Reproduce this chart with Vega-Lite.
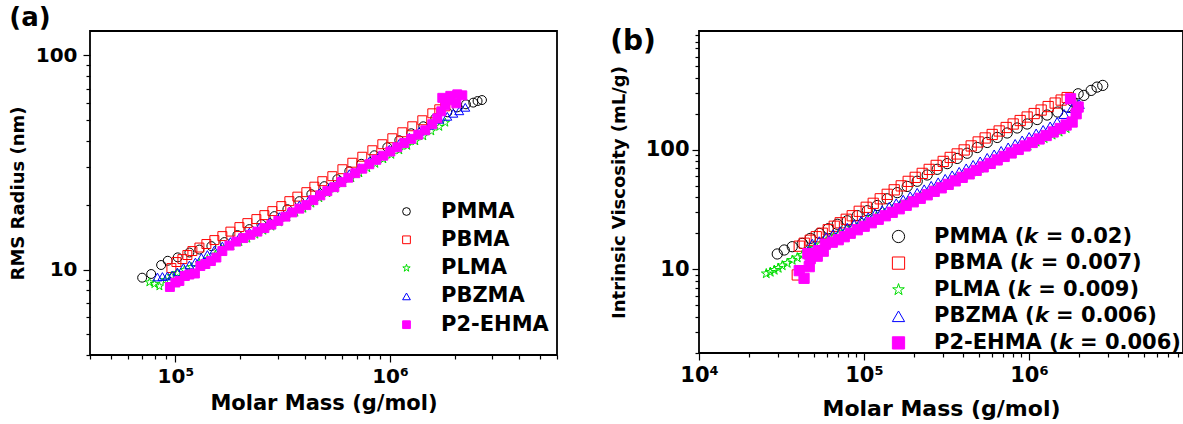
{
  "$schema": "https://vega.github.io/schema/vega-lite/v6.json",
  "background": "white",
  "padding": {"left": 8, "top": 4, "right": 0, "bottom": 0},
  "config": {
    "font": "DejaVu Sans",
    "view": {"stroke": "black", "strokeWidth": 1.8},
    "axis": {"domain": false, "grid": false, "tickColor": "black", "tickWidth": 1.2, "labelColor": "black", "titleColor": "black", "labelFont": "DejaVu Sans", "titleFont": "DejaVu Sans", "labelFontWeight": "bold", "titleFontWeight": "bold", "labelFlush": false, "labelOverlap": false, "labelBound": false},
    "legend": {"title": null, "labelFont": "DejaVu Sans", "labelFontWeight": "bold", "labelColor": "black", "labelFontSize": 20, "labelLimit": 400, "symbolStrokeWidth": 1},
    "title": {"font": "DejaVu Sans", "fontWeight": "bold", "color": "black", "fontSize": 26, "anchor": "start", "frame": "bounds"}
  },
  "resolve": {"scale": {"shape": "independent", "stroke": "independent", "fill": "independent"}, "legend": {"shape": "independent", "stroke": "independent", "fill": "independent"}},
  "spacing": 50,
  "datasets": {
    "a": [
      {"s":"PMMA","M":70000,"v":9.18},{"s":"PMMA","M":77100,"v":9.55},{"s":"PMMA","M":85800,"v":10.52},{"s":"PMMA","M":92100,"v":11.01},{"s":"PMMA","M":102500,"v":11.42},{"s":"PMMA","M":116200,"v":12.03},{"s":"PMMA","M":129300,"v":12.42},{"s":"PMMA","M":147100,"v":12.89},{"s":"PMMA","M":169200,"v":13.46},{"s":"PMMA","M":194500,"v":14.51},{"s":"PMMA","M":221100,"v":15.47},{"s":"PMMA","M":251500,"v":16.32},{"s":"PMMA","M":289200,"v":17.79},{"s":"PMMA","M":332500,"v":19.17},{"s":"PMMA","M":378100,"v":20.89},{"s":"PMMA","M":430000,"v":22.52},{"s":"PMMA","M":494300,"v":24.54},{"s":"PMMA","M":568200,"v":26.45},{"s":"PMMA","M":646200,"v":28.83},{"s":"PMMA","M":734900,"v":31.22},{"s":"PMMA","M":845300,"v":34.21},{"s":"PMMA","M":971500,"v":37.28},{"s":"PMMA","M":1104900,"v":40.19},{"s":"PMMA","M":1256600,"v":43.33},{"s":"PMMA","M":1429500,"v":46.7},{"s":"PMMA","M":1625600,"v":50.88},{"s":"PMMA","M":1849200,"v":54.27},{"s":"PMMA","M":2057600,"v":57.25},{"s":"PMMA","M":2259300,"v":59.12},{"s":"PMMA","M":2443600,"v":60.21},{"s":"PMMA","M":2558800,"v":61.25},{"s":"PMMA","M":2682400,"v":61.91},
      {"s":"PBMA","M":95800,"v":10.18},{"s":"PBMA","M":101100,"v":10.86},{"s":"PBMA","M":107800,"v":11.21},{"s":"PBMA","M":113700,"v":11.71},{"s":"PBMA","M":120000,"v":12.22},{"s":"PBMA","M":129400,"v":12.69},{"s":"PBMA","M":139400,"v":13.18},{"s":"PBMA","M":151900,"v":13.75},{"s":"PBMA","M":165500,"v":14.35},{"s":"PBMA","M":180400,"v":15.06},{"s":"PBMA","M":198700,"v":15.81},{"s":"PBMA","M":216400,"v":16.5},{"s":"PBMA","M":238400,"v":17.23},{"s":"PBMA","M":259700,"v":17.98},{"s":"PBMA","M":283000,"v":18.77},{"s":"PBMA","M":311600,"v":19.81},{"s":"PBMA","M":339600,"v":20.89},{"s":"PBMA","M":370000,"v":21.93},{"s":"PBMA","M":407500,"v":23.01},{"s":"PBMA","M":444000,"v":24.41},{"s":"PBMA","M":483800,"v":25.89},{"s":"PBMA","M":538500,"v":27.32},{"s":"PBMA","M":599900,"v":29.44},{"s":"PBMA","M":667400,"v":31.57},{"s":"PBMA","M":742800,"v":33.67},{"s":"PBMA","M":827300,"v":36.1},{"s":"PBMA","M":920700,"v":38.51},{"s":"PBMA","M":1025000,"v":41.06},{"s":"PBMA","M":1141000,"v":43.79},{"s":"PBMA","M":1270200,"v":46.7},{"s":"PBMA","M":1414000,"v":49.82},{"s":"PBMA","M":1574100,"v":53.69},{"s":"PBMA","M":1696600,"v":56.05},{"s":"PBMA","M":1810000,"v":57.87},
      {"s":"PLMA","M":75670,"v":8.737},{"s":"PLMA","M":79850,"v":8.579},{"s":"PLMA","M":84240,"v":8.37},{"s":"PLMA","M":89820,"v":8.955},{"s":"PLMA","M":95800,"v":9.347},{"s":"PLMA","M":102170,"v":9.652},{"s":"PLMA","M":110120,"v":9.968},{"s":"PLMA","M":118720,"v":10.294},{"s":"PLMA","M":129340,"v":10.745},{"s":"PLMA","M":140940,"v":11.215},{"s":"PLMA","M":153570,"v":11.771},{"s":"PLMA","M":167330,"v":12.355},{"s":"PLMA","M":182390,"v":12.895},{"s":"PLMA","M":198660,"v":13.46},{"s":"PLMA","M":216420,"v":13.97},{"s":"PLMA","M":235890,"v":14.586},{"s":"PLMA","M":256970,"v":15.224},{"s":"PLMA","M":280050,"v":15.891},{"s":"PLMA","M":305060,"v":16.627},{"s":"PLMA","M":332490,"v":17.539},{"s":"PLMA","M":362240,"v":18.47},{"s":"PLMA","M":394690,"v":19.276},{"s":"PLMA","M":430030,"v":20.36},{"s":"PLMA","M":468480,"v":21.577},{"s":"PLMA","M":510450,"v":22.76},{"s":"PLMA","M":556180,"v":23.89},{"s":"PLMA","M":606040,"v":25.35},{"s":"PLMA","M":660360,"v":26.73},{"s":"PLMA","M":719450,"v":28.21},{"s":"PLMA","M":783960,"v":29.77},{"s":"PLMA","M":854190,"v":31.22},{"s":"PLMA","M":930630,"v":32.78},{"s":"PLMA","M":1014000,"v":34.4},{"s":"PLMA","M":1104900,"v":36.1},{"s":"PLMA","M":1203700,"v":37.88},{"s":"PLMA","M":1312300,"v":39.77},{"s":"PLMA","M":1429500,"v":41.96},{"s":"PLMA","M":1557300,"v":44.26},{"s":"PLMA","M":1696600,"v":46.45},{"s":"PLMA","M":1810000,"v":48.59},
      {"s":"PBZMA","M":82460,"v":9.247},{"s":"PBZMA","M":87000,"v":9.297},{"s":"PBZMA","M":91790,"v":9.347},{"s":"PBZMA","M":96830,"v":9.447},{"s":"PBZMA","M":102170,"v":9.756},{"s":"PBZMA","M":108960,"v":10.239},{"s":"PBZMA","M":116200,"v":10.517},{"s":"PBZMA","M":123940,"v":10.861},{"s":"PBZMA","M":132160,"v":11.397},{"s":"PBZMA","M":140940,"v":11.771},{"s":"PBZMA","M":151940,"v":12.353},{"s":"PBZMA","M":165510,"v":12.895},{"s":"PBZMA","M":180450,"v":13.533},{"s":"PBZMA","M":198660,"v":14.2},{"s":"PBZMA","M":221130,"v":14.98},{"s":"PBZMA","M":246180,"v":15.805},{"s":"PBZMA","M":274100,"v":16.68},{"s":"PBZMA","M":305060,"v":17.69},{"s":"PBZMA","M":339570,"v":18.77},{"s":"PBZMA","M":378130,"v":20.02},{"s":"PBZMA","M":420930,"v":21.35},{"s":"PBZMA","M":468480,"v":22.88},{"s":"PBZMA","M":521490,"v":24.28},{"s":"PBZMA","M":580550,"v":26.17},{"s":"PBZMA","M":646230,"v":28.06},{"s":"PBZMA","M":719450,"v":29.92},{"s":"PBZMA","M":800950,"v":32.09},{"s":"PBZMA","M":891620,"v":34.21},{"s":"PBZMA","M":992540,"v":36.49},{"s":"PBZMA","M":1104900,"v":38.93},{"s":"PBZMA","M":1229900,"v":41.5},{"s":"PBZMA","M":1369200,"v":44.26},{"s":"PBZMA","M":1524200,"v":47.21},{"s":"PBZMA","M":1696600,"v":50.34},{"s":"PBZMA","M":1849200,"v":51.98},{"s":"PBZMA","M":1972000,"v":53.69},{"s":"PBZMA","M":2102300,"v":55.15},{"s":"PBZMA","M":2242400,"v":57.25},
      {"s":"P2-EHMA","M":94280,"v":8.308},{"s":"P2-EHMA","M":100000,"v":8.715},{"s":"P2-EHMA","M":104380,"v":8.859},{"s":"P2-EHMA","M":110720,"v":9.347},{"s":"P2-EHMA","M":116200,"v":9.498},{"s":"P2-EHMA","M":123280,"v":9.601},{"s":"P2-EHMA","M":130740,"v":10.405},{"s":"P2-EHMA","M":137960,"v":10.63},{"s":"P2-EHMA","M":146350,"v":10.977},{"s":"P2-EHMA","M":155230,"v":11.398},{"s":"P2-EHMA","M":165510,"v":12.22},{"s":"P2-EHMA","M":178530,"v":12.964},{"s":"P2-EHMA","M":192380,"v":13.533},{"s":"P2-EHMA","M":207350,"v":14.049},{"s":"P2-EHMA","M":223520,"v":14.555},{"s":"P2-EHMA","M":241000,"v":15.062},{"s":"P2-EHMA","M":259730,"v":15.636},{"s":"P2-EHMA","M":280050,"v":16.235},{"s":"P2-EHMA","M":301800,"v":16.913},{"s":"P2-EHMA","M":325440,"v":17.69},{"s":"P2-EHMA","M":350750,"v":18.51},{"s":"P2-EHMA","M":378130,"v":19.277},{"s":"P2-EHMA","M":407480,"v":20.02},{"s":"P2-EHMA","M":439320,"v":21.115},{"s":"P2-EHMA","M":473540,"v":22.233},{"s":"P2-EHMA","M":510450,"v":23.255},{"s":"P2-EHMA","M":550260,"v":24.28},{"s":"P2-EHMA","M":593460,"v":25.62},{"s":"P2-EHMA","M":639350,"v":26.88},{"s":"P2-EHMA","M":689190,"v":28.21},{"s":"P2-EHMA","M":742820,"v":29.61},{"s":"P2-EHMA","M":800950,"v":31.06},{"s":"P2-EHMA","M":863400,"v":32.57},{"s":"P2-EHMA","M":930630,"v":34.04},{"s":"P2-EHMA","M":1003300,"v":35.6},{"s":"P2-EHMA","M":1081400,"v":37.28},{"s":"P2-EHMA","M":1165700,"v":39.01},{"s":"P2-EHMA","M":1256600,"v":40.8},{"s":"P2-EHMA","M":1354600,"v":42.68},{"s":"P2-EHMA","M":1460100,"v":44.74},{"s":"P2-EHMA","M":1574100,"v":47.72},{"s":"P2-EHMA","M":1660600,"v":50.88},{"s":"P2-EHMA","M":1733400,"v":54.85},{"s":"P2-EHMA","M":1810000,"v":58.48},{"s":"P2-EHMA","M":1889200,"v":61.72},{"s":"P2-EHMA","M":1752100,"v":63.4},{"s":"P2-EHMA","M":1909600,"v":64.77},{"s":"P2-EHMA","M":2057700,"v":65.82},{"s":"P2-EHMA","M":2172000,"v":65.12},{"s":"P2-EHMA","M":2036400,"v":59.76}
    ],
    "b": [
      {"s":"PMMA","M":29820,"v":13.44},{"s":"PMMA","M":32880,"v":14.51},{"s":"PMMA","M":36760,"v":15.46},{"s":"PMMA","M":42270,"v":16.47},{"s":"PMMA","M":47260,"v":18.13},{"s":"PMMA","M":53590,"v":19.95},{"s":"PMMA","M":60760,"v":21.84},{"s":"PMMA","M":68890,"v":23.81},{"s":"PMMA","M":79210,"v":25.46},{"s":"PMMA","M":91080,"v":28.13},{"s":"PMMA","M":104710,"v":30.9},{"s":"PMMA","M":120360,"v":34.15},{"s":"PMMA","M":138410,"v":38.84},{"s":"PMMA","M":159180,"v":43.74},{"s":"PMMA","M":182970,"v":49.26},{"s":"PMMA","M":210400,"v":54.44},{"s":"PMMA","M":241910,"v":61.43},{"s":"PMMA","M":278130,"v":68.51},{"s":"PMMA","M":319780,"v":76.43},{"s":"PMMA","M":367590,"v":84.45},{"s":"PMMA","M":422720,"v":93.33},{"s":"PMMA","M":486050,"v":104.1},{"s":"PMMA","M":558860,"v":114.8},{"s":"PMMA","M":642610,"v":126.4},{"s":"PMMA","M":738780,"v":137.8},{"s":"PMMA","M":849430,"v":151.7},{"s":"PMMA","M":976560,"v":163.8},{"s":"PMMA","M":1122800,"v":178.5},{"s":"PMMA","M":1291000,"v":194.6},{"s":"PMMA","M":1494800,"v":206.2},{"s":"PMMA","M":1706800,"v":227.0},{"s":"PMMA","M":1829700,"v":254.6},{"s":"PMMA","M":1989500,"v":292.9},{"s":"PMMA","M":2154400,"v":284.0},{"s":"PMMA","M":2385600,"v":312.6},{"s":"PMMA","M":2590700,"v":333.1},{"s":"PMMA","M":2804900,"v":344.1},
      {"s":"PBMA","M":39430,"v":8.981},{"s":"PBMA","M":40540,"v":15.61},{"s":"PBMA","M":43460,"v":16.53},{"s":"PBMA","M":47260,"v":17.51},{"s":"PBMA","M":51390,"v":18.73},{"s":"PBMA","M":55890,"v":20.03},{"s":"PBMA","M":60760,"v":21.42},{"s":"PBMA","M":66070,"v":22.91},{"s":"PBMA","M":71830,"v":24.5},{"s":"PBMA","M":78110,"v":26.2},{"s":"PBMA","M":84940,"v":28.03},{"s":"PBMA","M":93650,"v":30.55},{"s":"PBMA","M":103260,"v":32.99},{"s":"PBMA","M":113850,"v":35.62},{"s":"PBMA","M":125570,"v":38.84},{"s":"PBMA","M":138410,"v":42.33},{"s":"PBMA","M":152630,"v":46.15},{"s":"PBMA","M":168310,"v":49.83},{"s":"PBMA","M":185540,"v":54.33},{"s":"PBMA","M":204620,"v":58.68},{"s":"PBMA","M":225630,"v":63.34},{"s":"PBMA","M":248730,"v":68.39},{"s":"PBMA","M":274280,"v":73.85},{"s":"PBMA","M":302430,"v":79.75},{"s":"PBMA","M":333460,"v":86.1},{"s":"PBMA","M":367590,"v":92.07},{"s":"PBMA","M":405400,"v":99.43},{"s":"PBMA","M":446970,"v":107.4},{"s":"PBMA","M":492890,"v":115.9},{"s":"PBMA","M":543480,"v":125.2},{"s":"PBMA","M":599270,"v":133.9},{"s":"PBMA","M":660690,"v":143.2},{"s":"PBMA","M":728500,"v":153.1},{"s":"PBMA","M":803300,"v":163.8},{"s":"PBMA","M":885770,"v":175.1},{"s":"PBMA","M":976560,"v":187.3},{"s":"PBMA","M":1076800,"v":200.3},{"s":"PBMA","M":1187300,"v":214.2},{"s":"PBMA","M":1309200,"v":229.1},{"s":"PBMA","M":1443500,"v":245.0},{"s":"PBMA","M":1569700,"v":259.5},{"s":"PBMA","M":1706800,"v":272.3},
      {"s":"PLMA","M":25580,"v":9.208},{"s":"PLMA","M":27050,"v":9.477},{"s":"PLMA","M":28600,"v":9.848},{"s":"PLMA","M":30240,"v":10.23},{"s":"PLMA","M":31980,"v":10.74},{"s":"PLMA","M":34280,"v":11.26},{"s":"PLMA","M":36760,"v":11.93},{"s":"PLMA","M":39430,"v":12.51},{"s":"PLMA","M":42270,"v":13.13},{"s":"PLMA","M":45960,"v":14.04},{"s":"PLMA","M":49970,"v":15.02},{"s":"PLMA","M":54350,"v":16.06},{"s":"PLMA","M":59100,"v":17.01},{"s":"PLMA","M":64260,"v":18.02},{"s":"PLMA","M":69860,"v":19.28},{"s":"PLMA","M":77030,"v":20.62},{"s":"PLMA","M":84940,"v":22.05},{"s":"PLMA","M":94980,"v":23.58},{"s":"PLMA","M":106180,"v":25.46},{"s":"PLMA","M":118720,"v":27.49},{"s":"PLMA","M":132760,"v":29.39},{"s":"PLMA","M":148430,"v":31.75},{"s":"PLMA","M":165960,"v":33.95},{"s":"PLMA","M":185540,"v":36.66},{"s":"PLMA","M":207500,"v":39.22},{"s":"PLMA","M":232010,"v":42.33},{"s":"PLMA","M":259400,"v":45.27},{"s":"PLMA","M":290000,"v":48.89},{"s":"PLMA","M":324310,"v":52.29},{"s":"PLMA","M":362620,"v":56.44},{"s":"PLMA","M":405400,"v":60.38},{"s":"PLMA","M":453390,"v":65.19},{"s":"PLMA","M":506920,"v":69.72},{"s":"PLMA","M":566680,"v":75.28},{"s":"PLMA","M":633670,"v":80.5},{"s":"PLMA","M":708480,"v":86.93},{"s":"PLMA","M":792110,"v":92.95},{"s":"PLMA","M":885770,"v":100.4},{"s":"PLMA","M":990280,"v":107.4},{"s":"PLMA","M":1107400,"v":115.9},{"s":"PLMA","M":1238200,"v":124.0},{"s":"PLMA","M":1384100,"v":132.6},{"s":"PLMA","M":1526300,"v":140.5},{"s":"PLMA","M":1683100,"v":150.2},
      {"s":"PBZMA","M":48610,"v":16.37},{"s":"PBZMA","M":53590,"v":17.18},{"s":"PBZMA","M":59100,"v":18.55},{"s":"PBZMA","M":65160,"v":19.65},{"s":"PBZMA","M":71830,"v":20.81},{"s":"PBZMA","M":79210,"v":22.26},{"s":"PBZMA","M":87340,"v":23.81},{"s":"PBZMA","M":96300,"v":25.46},{"s":"PBZMA","M":106180,"v":27.23},{"s":"PBZMA","M":117080,"v":29.12},{"s":"PBZMA","M":129100,"v":31.14},{"s":"PBZMA","M":142350,"v":33.31},{"s":"PBZMA","M":156990,"v":35.62},{"s":"PBZMA","M":173030,"v":38.1},{"s":"PBZMA","M":190850,"v":40.74},{"s":"PBZMA","M":210400,"v":43.57},{"s":"PBZMA","M":232010,"v":46.6},{"s":"PBZMA","M":255800,"v":49.83},{"s":"PBZMA","M":281990,"v":53.3},{"s":"PBZMA","M":310960,"v":56.99},{"s":"PBZMA","M":342890,"v":60.95},{"s":"PBZMA","M":378070,"v":65.19},{"s":"PBZMA","M":416870,"v":69.72},{"s":"PBZMA","M":459590,"v":74.56},{"s":"PBZMA","M":506920,"v":79.72},{"s":"PBZMA","M":558860,"v":85.28},{"s":"PBZMA","M":616160,"v":91.2},{"s":"PBZMA","M":679360,"v":97.54},{"s":"PBZMA","M":749010,"v":104.3},{"s":"PBZMA","M":825790,"v":111.6},{"s":"PBZMA","M":910710,"v":119.3},{"s":"PBZMA","M":1004200,"v":127.6},{"s":"PBZMA","M":1107400,"v":136.5},{"s":"PBZMA","M":1221000,"v":146.0},{"s":"PBZMA","M":1346100,"v":156.1},{"s":"PBZMA","M":1484300,"v":170.1},{"s":"PBZMA","M":1636800,"v":198.4},{"s":"PBZMA","M":1829700,"v":222.6},{"s":"PBZMA","M":2017400,"v":240.4},
      {"s":"P2-EHMA","M":40540,"v":9.754},{"s":"P2-EHMA","M":43340,"v":8.414},{"s":"P2-EHMA","M":46610,"v":10.53},{"s":"P2-EHMA","M":47260,"v":12.28},{"s":"P2-EHMA","M":45710,"v":13.52},{"s":"P2-EHMA","M":52110,"v":12.88},{"s":"P2-EHMA","M":52840,"v":14.32},{"s":"P2-EHMA","M":56670,"v":14.18},{"s":"P2-EHMA","M":58270,"v":16.22},{"s":"P2-EHMA","M":64260,"v":16.85},{"s":"P2-EHMA","M":69860,"v":17.68},{"s":"P2-EHMA","M":75960,"v":18.73},{"s":"P2-EHMA","M":82590,"v":20.03},{"s":"P2-EHMA","M":91080,"v":21.42},{"s":"P2-EHMA","M":100420,"v":22.91},{"s":"P2-EHMA","M":110720,"v":24.5},{"s":"P2-EHMA","M":122110,"v":26.2},{"s":"P2-EHMA","M":134620,"v":28.03},{"s":"P2-EHMA","M":148430,"v":29.96},{"s":"P2-EHMA","M":163680,"v":32.05},{"s":"P2-EHMA","M":180500,"v":34.28},{"s":"P2-EHMA","M":199010,"v":36.66},{"s":"P2-EHMA","M":219420,"v":39.22},{"s":"P2-EHMA","M":241910,"v":41.93},{"s":"P2-EHMA","M":266750,"v":44.84},{"s":"P2-EHMA","M":294110,"v":47.96},{"s":"P2-EHMA","M":324310,"v":51.29},{"s":"P2-EHMA","M":357520,"v":54.85},{"s":"P2-EHMA","M":394300,"v":58.68},{"s":"P2-EHMA","M":434590,"v":62.73},{"s":"P2-EHMA","M":479280,"v":67.09},{"s":"P2-EHMA","M":528550,"v":71.76},{"s":"P2-EHMA","M":582900,"v":76.74},{"s":"P2-EHMA","M":642610,"v":82.06},{"s":"P2-EHMA","M":708480,"v":87.77},{"s":"P2-EHMA","M":781140,"v":93.85},{"s":"P2-EHMA","M":861390,"v":100.4},{"s":"P2-EHMA","M":949940,"v":107.4},{"s":"P2-EHMA","M":1047100,"v":114.8},{"s":"P2-EHMA","M":1154600,"v":122.8},{"s":"P2-EHMA","M":1273300,"v":131.3},{"s":"P2-EHMA","M":1404200,"v":140.5},{"s":"P2-EHMA","M":1547800,"v":150.2},{"s":"P2-EHMA","M":1683100,"v":160.6},{"s":"P2-EHMA","M":1829700,"v":170.1},{"s":"P2-EHMA","M":1934900,"v":199.5},{"s":"P2-EHMA","M":1989500,"v":227.0},{"s":"P2-EHMA","M":1789000,"v":266.1}
    ]
  },
  "hconcat": [
    {
      "width": 467,
      "height": 324,
      "title": {"text": "(a)", "offset": 0},
      "data": {"name": "a"},
      "mark": {"type": "point", "size": 80, "strokeWidth": 1, "opacity": 1},
      "encoding": {
        "x": {"field": "M", "type": "quantitative",
          "scale": {"type": "log", "domain": [40000, 6000000], "nice": false, "zero": false},
          "axis": {"title": "Molar Mass (g/mol)", "titleFontSize": 21, "titlePadding": 6, "labelFontSize": 20, "labelPadding": 4,
            "values": [40000,50000,60000,70000,80000,90000,100000,200000,300000,400000,500000,600000,700000,800000,900000,1000000,2000000,3000000,4000000,5000000,6000000],
            "labelExpr": "datum.value == 100000 ? '10⁵' : datum.value == 1000000 ? '10⁶' : ''",
            "tickSize": {"condition": {"test": "datum.value == 100000 || datum.value == 1000000", "value": 7}, "value": 4}}},
        "y": {"field": "v", "type": "quantitative",
          "scale": {"type": "log", "domain": [4, 130], "nice": false, "zero": false},
          "axis": {"title": "RMS Radius (nm)", "titleFontSize": 18, "titlePadding": 8, "labelFontSize": 20, "labelPadding": 6,
            "values": [4,5,6,7,8,9,10,20,30,40,50,60,70,80,90,100],
            "labelExpr": "datum.value == 10 ? '10' : datum.value == 100 ? '100' : ''",
            "tickSize": {"condition": {"test": "datum.value == 10 || datum.value == 100", "value": 7}, "value": 4}}},
        "shape": {"field": "s", "type": "nominal",
          "scale": {"domain": ["PMMA","PBMA","PLMA","PBZMA","P2-EHMA"], "range": ["circle","square","M0,-1L0.2245,-0.309L0.9511,-0.309L0.3633,0.118L0.5878,0.809L0,0.382L-0.5878,0.809L-0.3633,0.118L-0.9511,-0.309L-0.2245,-0.309Z","triangle-up","square"]},
          "legend": {"orient": "none", "legendX": 306, "legendY": 170, "symbolSize": 60, "labelOffset": 24, "rowPadding": 6.3, "labelFontSize": 21}},
        "stroke": {"field": "s", "type": "nominal",
          "scale": {"domain": ["PMMA","PBMA","PLMA","PBZMA","P2-EHMA"], "range": ["#000000","#ff0000","#00dd00","#0000ff","#ff00ff"]},
          "legend": {"orient": "none", "legendX": 306, "legendY": 170, "symbolSize": 60, "labelOffset": 24, "rowPadding": 6.3, "labelFontSize": 21}},
        "fill": {"field": "s", "type": "nominal",
          "scale": {"domain": ["PMMA","PBMA","PLMA","PBZMA","P2-EHMA"], "range": ["transparent","transparent","transparent","transparent","#ff00ff"]},
          "legend": {"orient": "none", "legendX": 306, "legendY": 170, "symbolSize": 60, "labelOffset": 24, "rowPadding": 6.3, "labelFontSize": 21}}
      }
    },
    {
      "width": 484,
      "height": 322,
      "title": {"text": "(b)", "offset": 0, "dy": 32, "fontSize": 28},
      "data": {"name": "b"},
      "mark": {"type": "point", "size": 105, "strokeWidth": 1, "opacity": 1},
      "encoding": {
        "x": {"field": "M", "type": "quantitative",
          "scale": {"type": "log", "domain": [10000, 8600000], "nice": false, "zero": false},
          "axis": {"title": "Molar Mass (g/mol)", "titleFontSize": 22, "titlePadding": 13, "labelFontSize": 21, "labelPadding": 4,
            "values": [10000,20000,30000,40000,50000,60000,70000,80000,90000,100000,200000,300000,400000,500000,600000,700000,800000,900000,1000000,2000000,3000000,4000000,5000000,6000000,7000000,8000000],
            "labelExpr": "datum.value == 10000 ? '10⁴' : datum.value == 100000 ? '10⁵' : datum.value == 1000000 ? '10⁶' : ''",
            "tickSize": {"condition": {"test": "datum.value == 10000 || datum.value == 100000 || datum.value == 1000000", "value": 7}, "value": 4}}},
        "y": {"field": "v", "type": "quantitative",
          "scale": {"type": "log", "domain": [2, 980], "nice": false, "zero": false},
          "axis": {"title": "Intrinsic Viscosity (mL/g)", "titleFontSize": 18, "titlePadding": 17, "labelFontSize": 21, "labelPadding": 3,
            "values": [2,3,4,5,6,7,8,9,10,20,30,40,50,60,70,80,90,100,200,300,400,500,600,700,800,900],
            "labelExpr": "datum.value == 10 ? '10' : datum.value == 100 ? '100' : ''",
            "tickSize": {"condition": {"test": "datum.value == 10 || datum.value == 100", "value": 7}, "value": 4}}},
        "shape": {"field": "s", "type": "nominal",
          "scale": {"domain": ["PMMA","PBMA","PLMA","PBZMA","P2-EHMA"], "range": ["circle","square","M0,-1L0.2245,-0.309L0.9511,-0.309L0.3633,0.118L0.5878,0.809L0,0.382L-0.5878,0.809L-0.3633,0.118L-0.9511,-0.309L-0.2245,-0.309Z","triangle-up","square"]},
          "legend": {"orient": "none", "legendX": 189, "legendY": 195, "symbolSize": 150, "labelOffset": 25, "rowPadding": 4.6, "labelFontSize": 21,
            "labelExpr": "datum.label == 'PMMA' ? 'PMMA (𝙠 = 0.02)' : datum.label == 'PBMA' ? 'PBMA (𝙠 = 0.007)' : datum.label == 'PLMA' ? 'PLMA (𝙠 = 0.009)' : datum.label == 'PBZMA' ? 'PBZMA (𝙠 = 0.006)' : 'P2-EHMA (𝙠 = 0.006)'"}},
        "stroke": {"field": "s", "type": "nominal",
          "scale": {"domain": ["PMMA","PBMA","PLMA","PBZMA","P2-EHMA"], "range": ["#000000","#ff0000","#00dd00","#0000ff","#ff00ff"]},
          "legend": {"orient": "none", "legendX": 189, "legendY": 195, "symbolSize": 150, "labelOffset": 25, "rowPadding": 4.6, "labelFontSize": 21,
            "labelExpr": "datum.label == 'PMMA' ? 'PMMA (𝙠 = 0.02)' : datum.label == 'PBMA' ? 'PBMA (𝙠 = 0.007)' : datum.label == 'PLMA' ? 'PLMA (𝙠 = 0.009)' : datum.label == 'PBZMA' ? 'PBZMA (𝙠 = 0.006)' : 'P2-EHMA (𝙠 = 0.006)'"}},
        "fill": {"field": "s", "type": "nominal",
          "scale": {"domain": ["PMMA","PBMA","PLMA","PBZMA","P2-EHMA"], "range": ["transparent","transparent","transparent","transparent","#ff00ff"]},
          "legend": {"orient": "none", "legendX": 189, "legendY": 195, "symbolSize": 150, "labelOffset": 25, "rowPadding": 4.6, "labelFontSize": 21,
            "labelExpr": "datum.label == 'PMMA' ? 'PMMA (𝙠 = 0.02)' : datum.label == 'PBMA' ? 'PBMA (𝙠 = 0.007)' : datum.label == 'PLMA' ? 'PLMA (𝙠 = 0.009)' : datum.label == 'PBZMA' ? 'PBZMA (𝙠 = 0.006)' : 'P2-EHMA (𝙠 = 0.006)'"}}
      }
    }
  ]
}
